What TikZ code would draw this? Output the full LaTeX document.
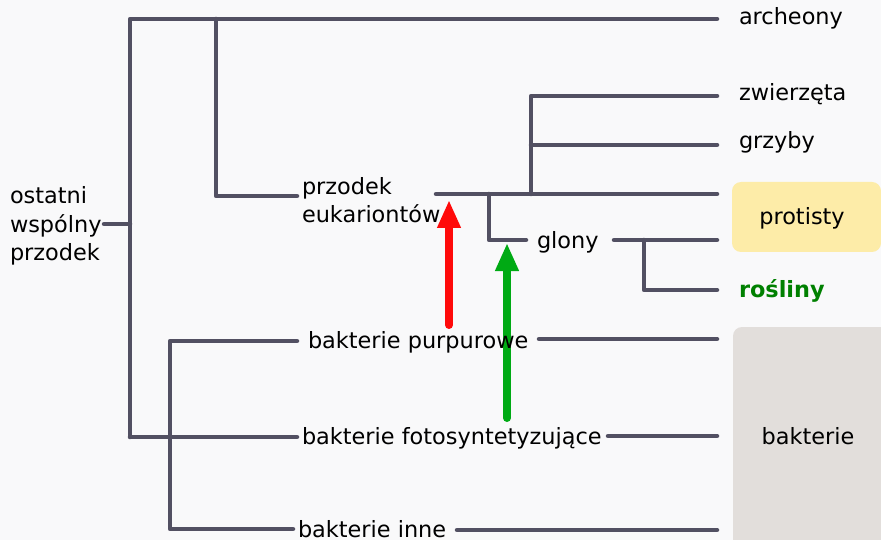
\documentclass[tikz,border=0pt]{standalone}
\usepackage{fontspec}
\setmainfont{DejaVu Sans}
\usetikzlibrary{arrows.meta}

\definecolor{bgcol}{RGB}{249,249,250}
\definecolor{treecol}{RGB}{82,80,98}
\definecolor{protcol}{RGB}{253,236,168}
\definecolor{bactcol}{RGB}{226,222,219}
\definecolor{plantgreen}{RGB}{0,128,0}
\definecolor{arrowred}{RGB}{255,10,10}
\definecolor{arrowgreen}{RGB}{0,170,20}

\tikzset{
  branch/.style={draw=treecol, line width=4.5pt, line cap=round, line join=round},
  lbl/.style={inner sep=0pt, outer sep=0pt, anchor=base west,
    font=\fontsize{22.4}{28.5}\selectfont, text=black},
  grouplbl/.style={inner sep=0pt, outer sep=0pt, anchor=base,
    font=\fontsize{22.4}{28.5}\selectfont, text=black},
  groupbox/.style={rounded corners=9pt},
  evoarrow/.style={line width=8pt, line cap=round,
    -{Triangle[width=22pt,length=28pt]}},
}

\begin{document}
\begin{tikzpicture}[x=1pt,y=-1pt]
  % canvas
  \fill[bgcol] (0,0) rectangle (881,540);
  \useasboundingbox (0,0) rectangle (881,540);

  % group backgrounds
  \begin{scope}
    \clip (0,0) rectangle (881,540);
    \fill[protcol, groupbox] (732,182) rectangle (881,252);
    \fill[bactcol, groupbox] (733,327) rectangle (895,570);
  \end{scope}

  % endosymbiosis arrows (under the labels)
  \coordinate (redfoot) at (449,325);
  \coordinate (redtip) at (449,200);
  \coordinate (greenfoot) at (507,418);
  \coordinate (greentip) at (507,243);
  \draw[evoarrow, draw=arrowred, fill=arrowred] (redfoot) -- (redtip);
  \draw[evoarrow, draw=arrowgreen, fill=arrowgreen] (greenfoot) -- (greentip);

  % labels (multi-line ones sit on the baseline of their last line)
  \node[lbl, align=left] (root) at (10,261) {ostatni\\wspólny\\przodek};
  \node[lbl, align=left] (euk) at (302,223) {przodek\\eukariontów};
  \node[lbl] (arch) at (739,25) {archeony};
  \node[lbl] (zw) at (739,101) {zwierzęta};
  \node[lbl] (grz) at (739,149) {grzyby};
  \node[lbl] (glony) at (537,248) {glony};
  \node[lbl, font=\fontsize{22.4}{28.5}\selectfont\bfseries, text=plantgreen] (ros) at (739,297) {rośliny};
  \node[lbl] (purp) at (308,348) {bakterie purpurowe};
  \node[lbl] (foto) at (302,444) {bakterie fotosyntetyzujące};
  \node[lbl] (inne) at (298,537) {bakterie inne};
  \node[grouplbl] (prot) at (802,225) {protisty};
  \node[grouplbl] (bakt) at (808,444) {bakterie};

  % junctions of the tree
  \coordinate (r0) at (104,224);
  \coordinate (r1) at (130,224);
  \coordinate (rtop) at (130,19);
  \coordinate (rbot) at (130,437);
  \coordinate (archend) at (717,19);
  \coordinate (ek) at (216,19);
  \coordinate (ekb) at (216,196);
  \coordinate (ekend) at (297,196);
  \coordinate (pl0) at (436,194);
  \coordinate (plend) at (717,194);
  \coordinate (an) at (531,194);
  \coordinate (antop) at (531,96);
  \coordinate (zwend) at (717,96);
  \coordinate (grz0) at (531,145);
  \coordinate (grzend) at (717,145);
  \coordinate (gl) at (489,194);
  \coordinate (glb) at (489,240);
  \coordinate (glend) at (526,240);
  \coordinate (gr0) at (614,240);
  \coordinate (grend) at (717,240);
  \coordinate (rs) at (644,240);
  \coordinate (rsb) at (644,290);
  \coordinate (rsend) at (717,290);
  \coordinate (fotend) at (297,437);
  \coordinate (bk) at (170,341);
  \coordinate (bkb) at (170,529);
  \coordinate (purend) at (297,341);
  \coordinate (innend) at (293,529);
  \coordinate (pr0) at (539,339);
  \coordinate (prend) at (717,339);
  \coordinate (fr0) at (608,436);
  \coordinate (frend) at (717,436);
  \coordinate (ir0) at (457,530);
  \coordinate (irend) at (717,530);

  % tree branches
  \draw[branch] (r0) -- (r1);
  \draw[branch] (rbot) -- (rtop) -- (archend);
  \draw[branch] (ek) -- (ekb) -- (ekend);
  \draw[branch] (pl0) -- (plend);
  \draw[branch] (an) -- (antop) -- (zwend);
  \draw[branch] (grz0) -- (grzend);
  \draw[branch] (gl) -- (glb) -- (glend);
  \draw[branch] (gr0) -- (grend);
  \draw[branch] (rs) -- (rsb) -- (rsend);
  \draw[branch] (rbot) -- (fotend);
  \draw[branch] (purend) -- (bk) -- (bkb) -- (innend);
  \draw[branch] (pr0) -- (prend);
  \draw[branch] (fr0) -- (frend);
  \draw[branch] (ir0) -- (irend);
\end{tikzpicture}
\end{document}
